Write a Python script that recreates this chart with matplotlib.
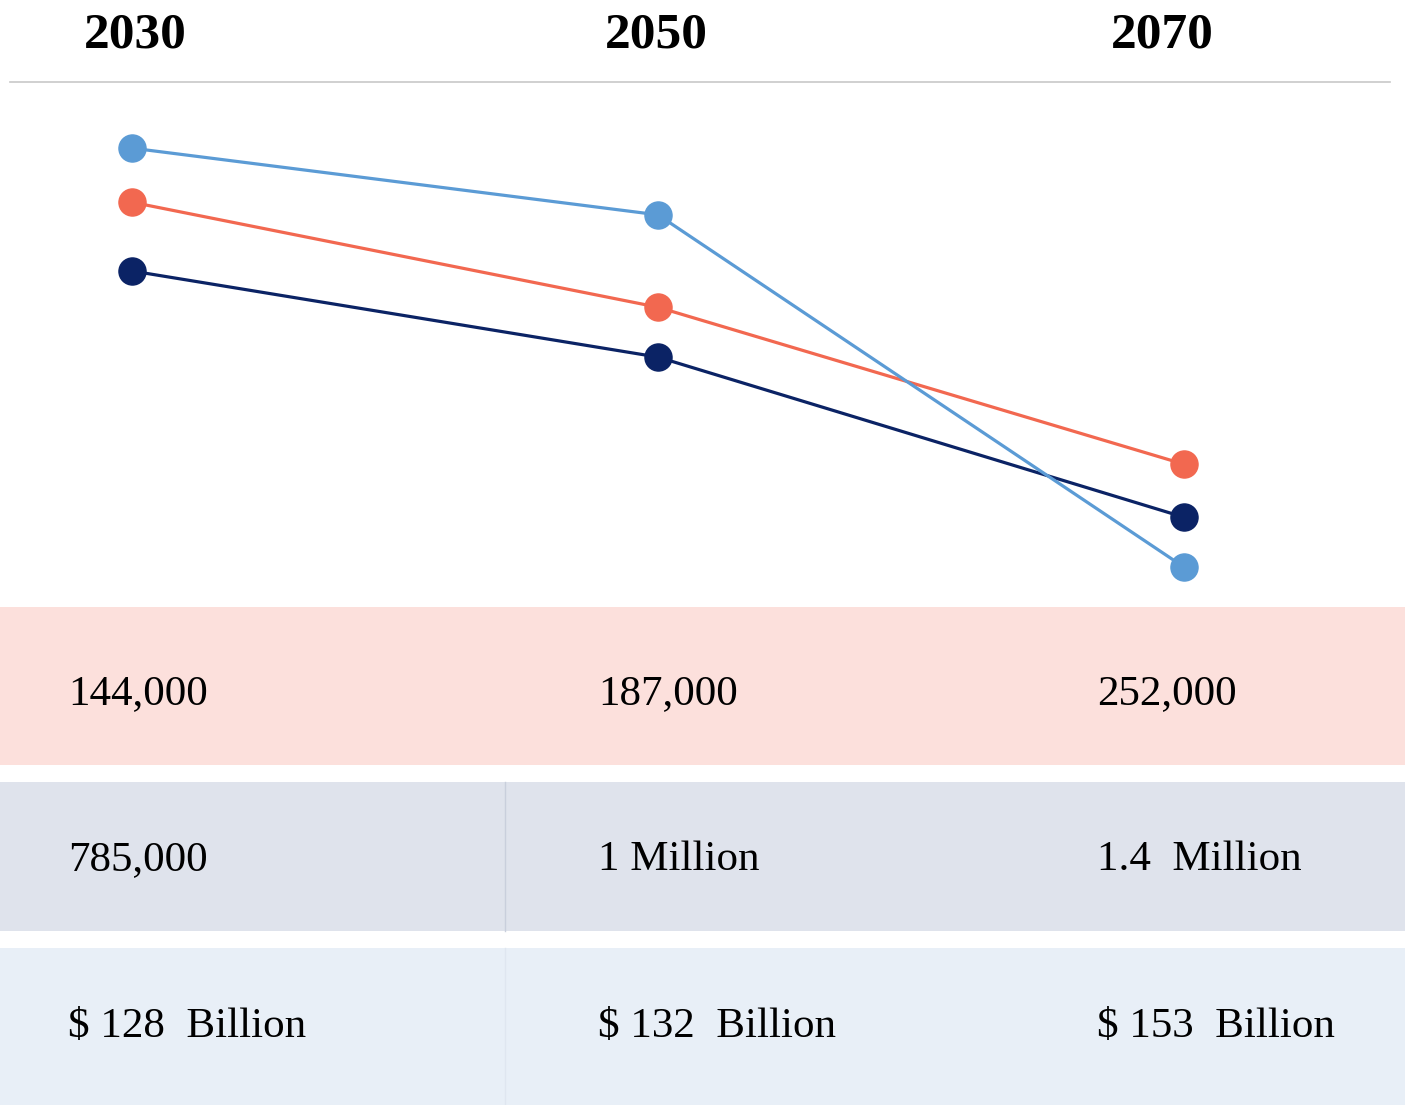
import matplotlib.pyplot as plt
from matplotlib.patches import Rectangle

plt.rcParams['font.family'] = ['Liberation Serif', 'DejaVu Serif']

# data
years = ['2030', '2050', '2070']
series_light = [87.4, 74.7, 7.6]
series_coral = [77.1, 57.1, 27.2]
series_navy = [64.0, 47.6, 17.1]

row_workers = ['144,000', '187,000', '252,000']
row_people = ['785,000', '1 Million', '1.4  Million']
row_money = ['$ 128  Billion', '$ 132  Billion', '$ 153  Billion']

c_light = '#5b9bd5'
c_coral = '#f26850'
c_navy = '#0b2365'

W, H = 1405, 1105
fig = plt.figure(figsize=(W / 100, H / 100), dpi=100)

# background axes in pixel coords
bg = fig.add_axes([0, 0, 1, 1])
bg.set_xlim(0, W)
bg.set_ylim(H, 0)
bg.axis('off')

# header
header_x = [135, 656, 1162]
for x, yr in zip(header_x, years):
    bg.text(x, 35, yr, fontsize=37, fontweight='bold', ha='center', va='center')
bg.plot([10, 1390], [82, 82], color='#c8c8c8', lw=1.2)

# table rows
rows = [(row_workers, 607, 765, 694, '#fce0dc', None),
        (row_people, 782, 931, 860, '#dfe3ec', '#c9cfdc'),
        (row_money, 948, 1105, 1027, '#e8eff7', '#dfe6f0')]
text_x = [68, 598, 1097]
for vals, top, bot, ty, col, div in rows:
    bg.add_patch(Rectangle((0, top), W, bot - top, color=col, lw=0))
    if div:
        bg.plot([505, 505], [top, bot], color=div, lw=1)
    for x, v in zip(text_x, vals):
        bg.text(x, ty, v, fontsize=31, ha='left', va='center')

# line chart
ax = fig.add_axes([0, (H - 607) / H, 1, (607 - 82) / H])
ax.set_xlim(-132 / 526, (W - 132) / 526)
ax.set_ylim(0, 100)
ax.axis('off')
xs = range(len(years))
for s, c in [(series_navy, c_navy), (series_coral, c_coral), (series_light, c_light)]:
    ax.plot(xs, s, color=c, lw=2.3, marker='o', markersize=19.5, clip_on=False)

fig.savefig('out.png', dpi=100)
